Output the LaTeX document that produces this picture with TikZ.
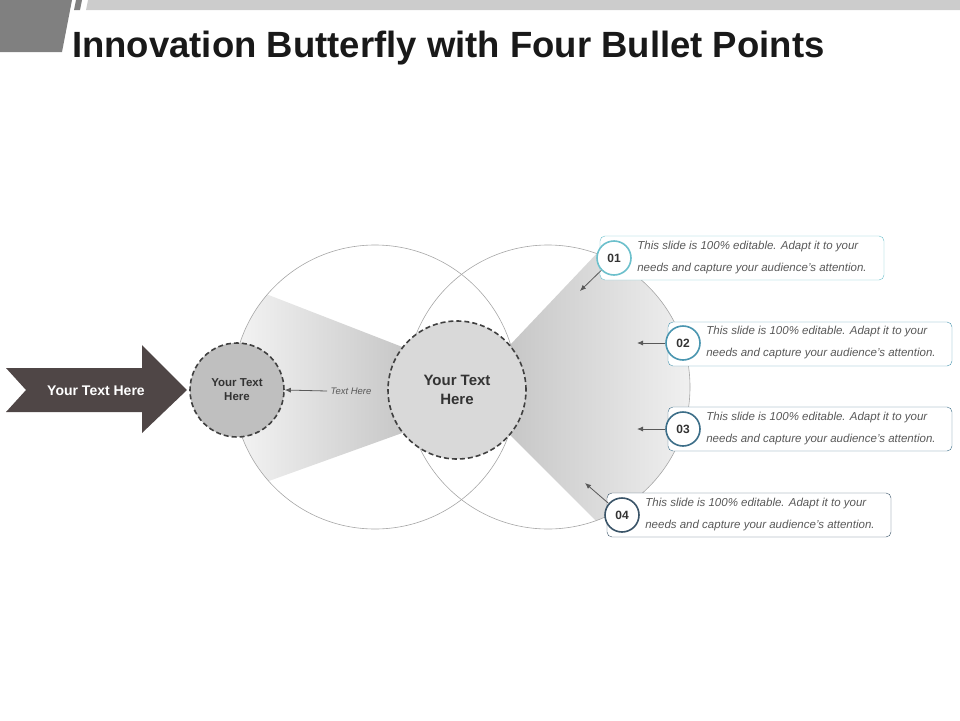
\documentclass[tikz,border=0pt]{standalone}
\usepackage{fontspec}
\setmainfont{Liberation Sans}
\usetikzlibrary{arrows.meta}
\definecolor{arrowdark}{HTML}{4F4646}
\definecolor{numa}{HTML}{6CC0CC}
\definecolor{numb}{HTML}{4A96B0}
\definecolor{numc}{HTML}{3C6E88}
\definecolor{numd}{HTML}{3A5468}
\tikzset{
  numcircle/.style={circle, draw=#1, line width=1.6pt, fill=white, minimum size=34pt, inner sep=0pt, font=\bfseries\fontsize{12}{12}\selectfont, text=black!80},
  notebox/.style={draw=#1, rounded corners=5pt, fill=white, minimum width=284pt, minimum height=44pt, inner sep=0pt},
  notetext/.style={font=\itshape\fontsize{11.5}{22}\selectfont, text=black!65, align=left, anchor=west},
  pointer/.style={-{Latex[length=6pt,width=5pt]}, black!65, line width=0.8pt},
  dashring/.style={circle, draw=black!75, dash pattern=on 5pt off 3pt, line width=1.6pt, align=center, text=black!80},
}
\begin{document}
\begin{tikzpicture}[x=1pt,y=-1pt]
    \useasboundingbox (0,0) rectangle (960,720);
    % header
    \fill[black!50] (0,0) -- (72,0) -- (62,52) -- (0,52) -- cycle;
    \fill[black!50] (76,0) -- (82,0) -- (80,10) -- (74,10) -- cycle;
    \fill[black!20] (88,0) -- (960,0) -- (960,10) -- (86,10) -- cycle;
    \node[anchor=base west, font=\bfseries\fontsize{36.5}{36}\selectfont, text=black!90, inner sep=0pt] (title) at (72,57) {Innovation Butterfly with Four Bullet Points};
    % wings
    \begin{scope}
        \clip (375,387) circle (142);
        \shade[left color=black!4, right color=black!22] (230,280) -- (405,348) -- (405,432) -- (230,495) -- cycle;
    \end{scope}
    \begin{scope}
        \clip (548,387) circle (142);
        \shade[left color=black!22, right color=black!5] (510,345) -- (600,250) -- (700,250) -- (700,530) -- (600,525) -- (510,435) -- cycle;
    \end{scope}
    \draw[black!35, line width=0.6pt] (375,387) circle (142);
    \draw[black!35, line width=0.6pt] (548,387) circle (142);
    % big arrow
    \fill[arrowdark] (6,368) -- (142,368) -- (142,345) -- (187,390) -- (142,433) -- (142,412) -- (6,412) -- (26,390) -- cycle;
    \node[font=\bfseries\fontsize{14}{14}\selectfont, text=white] (start) at (96,391) {Your Text Here};
    % circles
    \node[dashring, minimum size=138pt, fill=black!15, font=\bfseries\fontsize{15}{19}\selectfont] (core) at (457,390) {Your Text\\Here};
    \node[dashring, minimum size=94pt, fill=black!25, font=\bfseries\fontsize{11.5}{14}\selectfont] (side) at (237,390) {Your Text\\Here};
    \node[font=\itshape\fontsize{9.5}{10}\selectfont, text=black!65] (lbl) at (351,391) {Text Here};
    \draw[pointer] (lbl.west) -- (side.east);
    % bullet points
    \node[notebox=numa] (box1) at (742,258) {};
    \node[notebox=numb] (box2) at (810,344) {};
    \node[notebox=numc] (box3) at (810,429) {};
    \node[notebox=numd] (box4) at (749,515) {};
    \node[numcircle=numa] (n1) at (614,258) {01};
    \node[numcircle=numb] (n2) at (683,343) {02};
    \node[numcircle=numc] (n3) at (683,429) {03};
    \node[numcircle=numd] (n4) at (622,515) {04};
    \foreach \i in {1,...,4}
        \node[notetext] at ([xshift=2pt]n\i.east) {This slide is 100\% editable. Adapt it to your\\needs and capture your audience's attention.};
    \coordinate (p1) at (580,291);
    \coordinate (p2) at (637,343);
    \coordinate (p3) at (637,429);
    \coordinate (p4) at (585,483);
    \foreach \i in {1,...,4}
        \draw[pointer] (n\i) -- (p\i);
\end{tikzpicture}
\end{document}
